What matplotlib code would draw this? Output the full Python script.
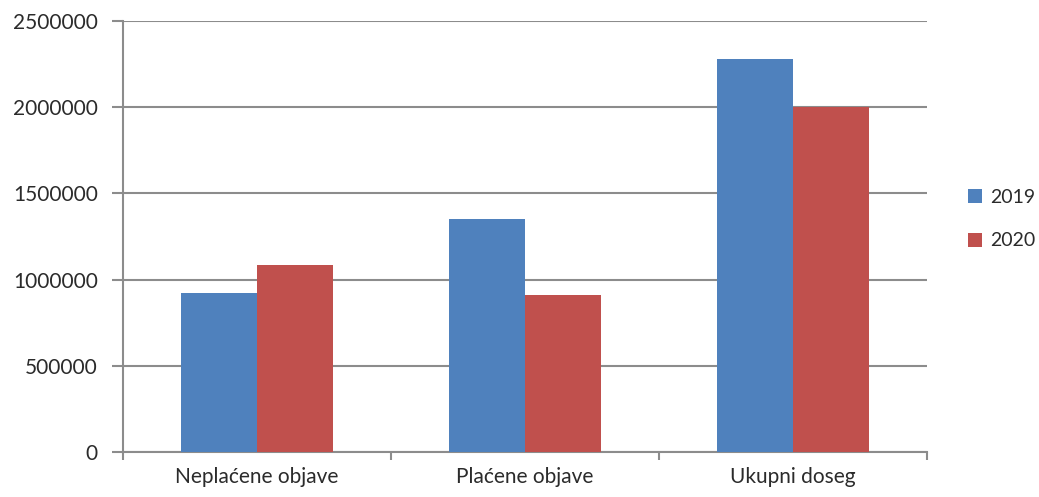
import matplotlib
matplotlib.use("Agg")
import matplotlib.pyplot as plt
from matplotlib.ticker import FixedLocator
import numpy as np

categories = ["Neplaćene objave", "Plaćene objave", "Ukupni doseg"]
series_names = ["2019", "2020"]
values_2019 = [924000, 1351000, 2281000]
values_2020 = [1085000, 909000, 2002000]
y_ticks = [0, 500000, 1000000, 1500000, 2000000, 2500000]

colors = ["#4F81BD", "#C0504D"]
grid_color = "#8C8C8C"
text_color = "#2B2B2B"

plt.rcParams["font.family"] = ["Lato", "DejaVu Sans"]

fig = plt.figure(figsize=(10.39, 4.97), dpi=100)
ax = fig.add_axes([123 / 1039, 45.3 / 497, 804 / 1039, 430.4 / 497])

x = np.arange(len(categories))
w = 0.285
ax.bar(x - w / 2, values_2019, width=w, color=colors[0], label=series_names[0], zorder=3)
ax.bar(x + w / 2, values_2020, width=w, color=colors[1], label=series_names[1], zorder=3)

ax.set_xlim(-0.5, len(categories) - 0.5)
ax.set_ylim(0, 2500000)
ax.set_yticks(y_ticks)
ax.set_yticklabels([str(v) for v in y_ticks])
ax.yaxis.grid(True, color=grid_color, linewidth=1.5, zorder=0)
ax.set_axisbelow(True)

# category labels centered, ticks at category boundaries
ax.set_xticks(x)
ax.set_xticklabels(categories)
ax.xaxis.set_minor_locator(FixedLocator(np.arange(len(categories) + 1) - 0.5))
ax.tick_params(axis="x", which="major", length=0, pad=11, labelsize=15, labelcolor=text_color)
ax.tick_params(axis="x", which="minor", length=6, width=1.5, color=grid_color, direction="out")
ax.tick_params(axis="y", length=8, width=1.5, color=grid_color, pad=10, labelsize=15,
               labelcolor=text_color)

for side in ["top", "right"]:
    ax.spines[side].set_visible(False)
for side in ["left", "bottom"]:
    ax.spines[side].set_color(grid_color)
    ax.spines[side].set_linewidth(1.5)

leg = ax.legend(loc="center left", bbox_to_anchor=(1.029, 0.54), frameon=False,
                fontsize=14, handlelength=0.75, handleheight=0.75, handletextpad=0.4,
                labelspacing=1.35)
for t in leg.get_texts():
    t.set_color(text_color)

fig.savefig("out.png", dpi=100)
